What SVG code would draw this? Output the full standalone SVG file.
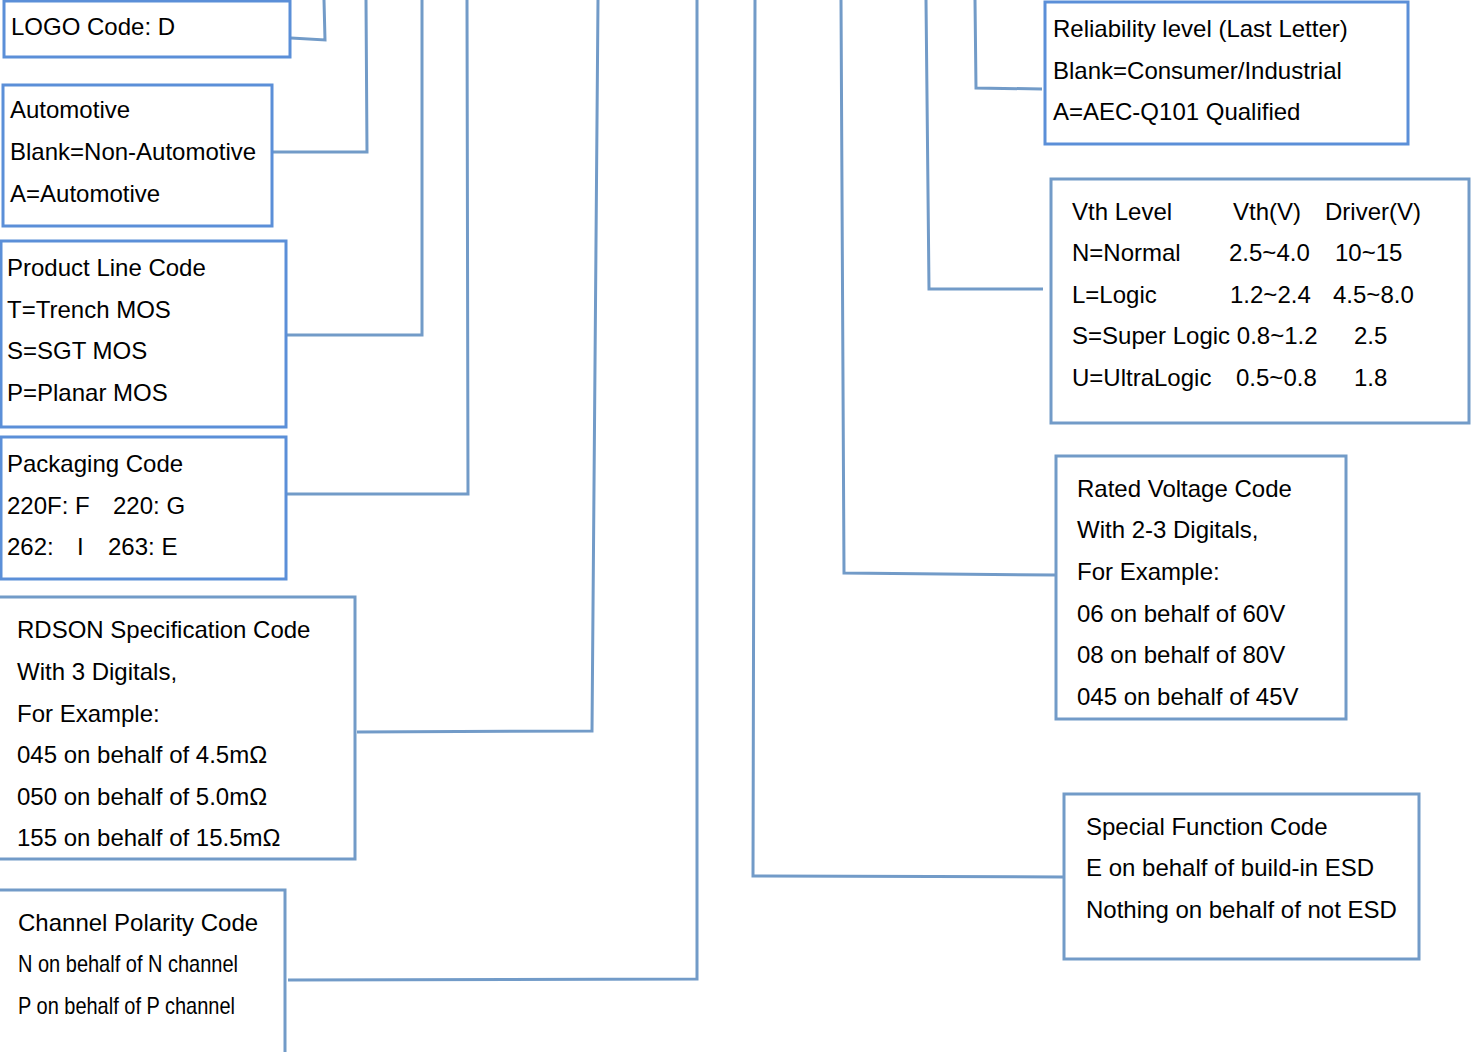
<svg xmlns="http://www.w3.org/2000/svg" width="1479" height="1052" viewBox="0 0 1479 1052">
<style>
.bg{fill:#ffffff}
.b1{fill:#ffffff;stroke:#5b8fd8;stroke-width:3}
.b2{fill:#ffffff;stroke:#729bc8;stroke-width:3}
.c{fill:none;stroke:#729bc8;stroke-width:3}
text{font-family:"Liberation Sans",Arial,sans-serif;font-size:24px;fill:#000}
</style>
<rect class="bg" x="0" y="0" width="1479" height="1052"/>
<g id="connectors">
<polyline class="c" points="291,38 325,40 324,0"/>
<polyline class="c" points="273,152 367,152 366,0"/>
<polyline class="c" points="287,335 422,335 422,0"/>
<polyline class="c" points="287,494 468,494 467,0"/>
<polyline class="c" points="357,732 592,731 598,0"/>
<polyline class="c" points="288,980 697,979 697,0"/>
<polyline class="c" points="1042,89 976,88 975,0"/>
<polyline class="c" points="1043,289 929,289 926,0"/>
<polyline class="c" points="1055,575 844,573 841,0"/>
<polyline class="c" points="1063,877 753,876 755,0"/>
</g>
<g id="logo">
<rect class="b1" x="4" y="1" width="286" height="56"/>
<text x="11" y="35">LOGO Code: D</text>
</g>
<g id="automotive">
<rect class="b1" x="3" y="85" width="269" height="141"/>
<text x="10" y="118">Automotive</text>
<text x="10" y="160">Blank=Non-Automotive</text>
<text x="10" y="202">A=Automotive</text>
</g>
<g id="productline">
<rect class="b1" x="1" y="241" width="285" height="186"/>
<text x="7" y="276">Product Line Code</text>
<text x="7" y="318">T=Trench MOS</text>
<text x="7" y="359">S=SGT MOS</text>
<text x="7" y="401">P=Planar MOS</text>
</g>
<g id="packaging">
<rect class="b1" x="1" y="437" width="285" height="142"/>
<text x="7" y="472">Packaging Code</text>
<text x="7" y="514">220F: F</text><text x="113" y="514">220: G</text>
<text x="7" y="555">262:</text><text x="77" y="555">I</text><text x="108" y="555">263: E</text>
</g>
<g id="rdson">
<rect class="b2" x="-3" y="597" width="358" height="262"/>
<text x="17" y="638">RDSON Specification Code</text>
<text x="17" y="680">With 3 Digitals,</text>
<text x="17" y="722">For Example:</text>
<text x="17" y="763">045 on behalf of 4.5mΩ</text>
<text x="17" y="805">050 on behalf of 5.0mΩ</text>
<text x="17" y="846">155 on behalf of 15.5mΩ</text>
</g>
<g id="channel">
<rect class="b2" x="-3" y="890" width="288" height="170"/>
<text x="18" y="931">Channel Polarity Code</text>
<text x="18" y="972" textLength="220" lengthAdjust="spacingAndGlyphs">N on behalf of N channel</text>
<text x="18" y="1014" textLength="217" lengthAdjust="spacingAndGlyphs">P on behalf of P channel</text>
</g>
<g id="reliability">
<rect class="b1" x="1045" y="2" width="363" height="142"/>
<text x="1053" y="37">Reliability level (Last Letter)</text>
<text x="1053" y="79">Blank=Consumer/Industrial</text>
<text x="1053" y="120">A=AEC-Q101 Qualified</text>
</g>
<g id="vth">
<rect class="b2" x="1051" y="179" width="418" height="244"/>
<text x="1072" y="220">Vth Level</text><text x="1233" y="220">Vth(V)</text><text x="1325" y="220">Driver(V)</text>
<text x="1072" y="261">N=Normal</text><text x="1229" y="261">2.5~4.0</text><text x="1335" y="261">10~15</text>
<text x="1072" y="303">L=Logic</text><text x="1230" y="303">1.2~2.4</text><text x="1333" y="303">4.5~8.0</text>
<text x="1072" y="344">S=Super Logic 0.8~1.2</text><text x="1354" y="344">2.5</text>
<text x="1072" y="386">U=UltraLogic</text><text x="1236" y="386">0.5~0.8</text><text x="1354" y="386">1.8</text>
</g>
<g id="ratedvoltage">
<rect class="b2" x="1056" y="456" width="290" height="263"/>
<text x="1077" y="497">Rated Voltage Code</text>
<text x="1077" y="538">With 2-3 Digitals,</text>
<text x="1077" y="580">For Example:</text>
<text x="1077" y="622">06 on behalf of 60V</text>
<text x="1077" y="663">08 on behalf of 80V</text>
<text x="1077" y="705">045 on behalf of 45V</text>
</g>
<g id="specialfunction">
<rect class="b2" x="1064" y="794" width="355" height="165"/>
<text x="1086" y="835">Special Function Code</text>
<text x="1086" y="876">E on behalf of build-in ESD</text>
<text x="1086" y="918">Nothing on behalf of not ESD</text>
</g>
</svg>
